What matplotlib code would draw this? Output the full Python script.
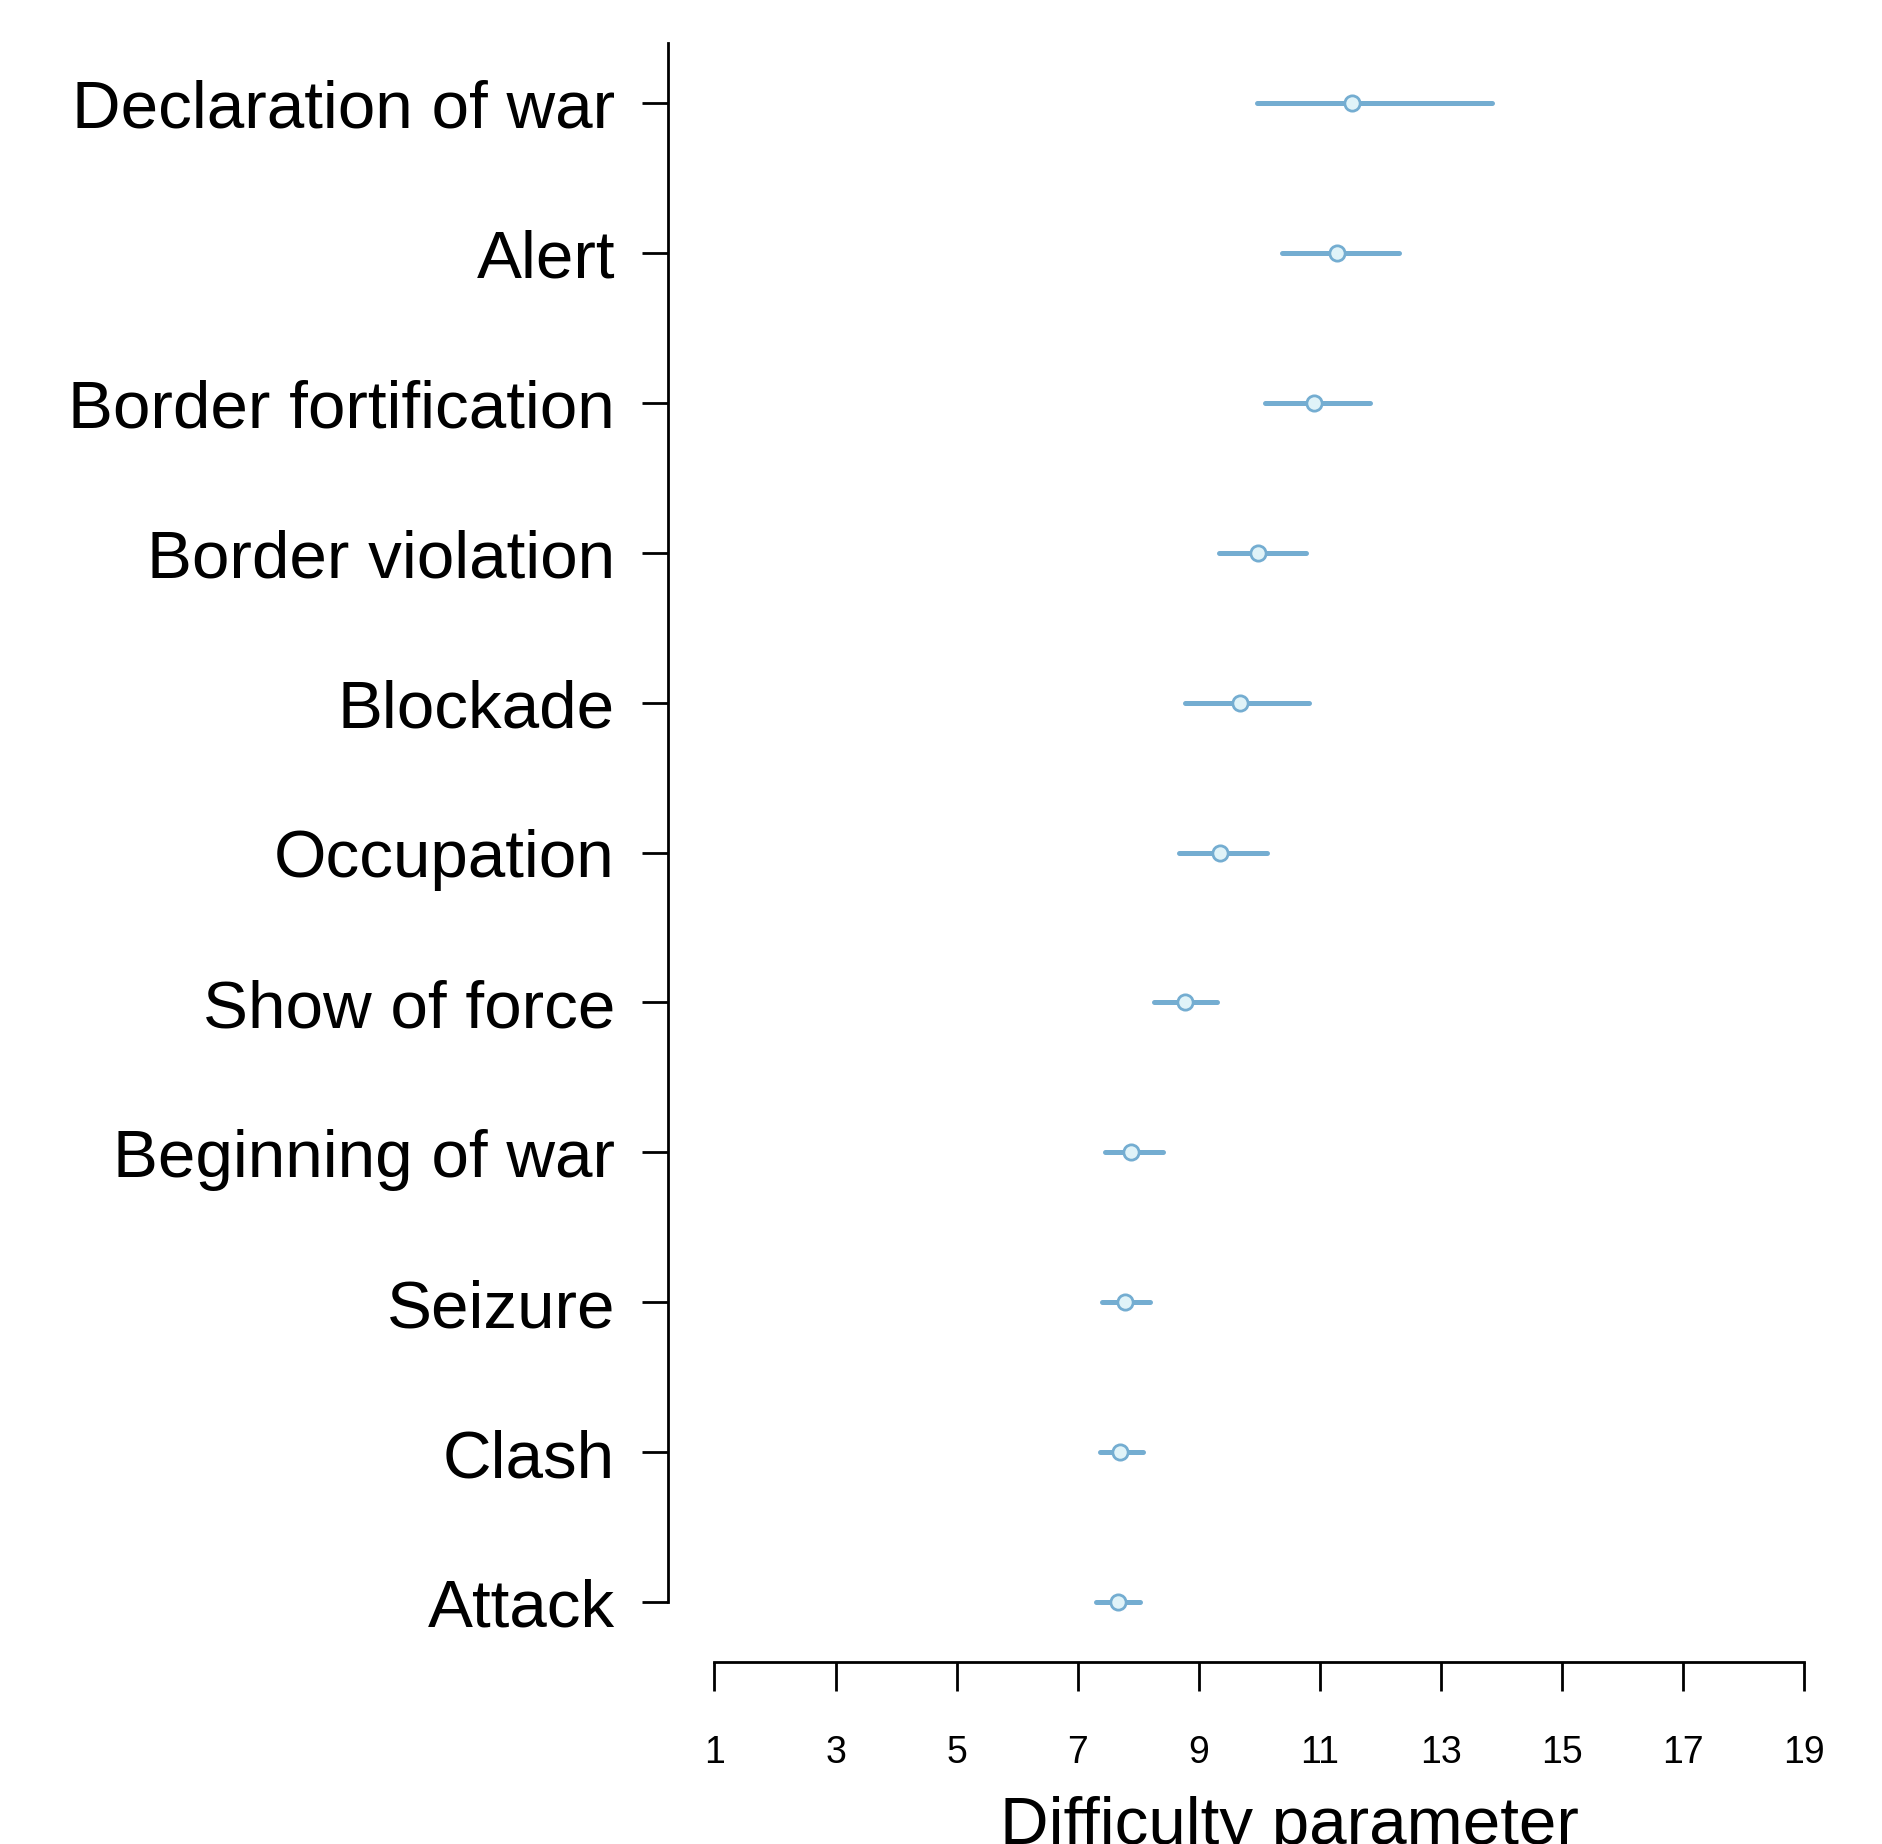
import matplotlib
matplotlib.use("Agg")
import matplotlib.pyplot as plt
import numpy as np

# items, bottom to top
items = ["Attack", "Clash", "Seizure", "Beginning of war", "Show of force",
         "Occupation", "Blockade", "Border violation", "Border fortification",
         "Alert", "Declaration of war"]
est = [7.66, 7.70, 7.79, 7.89, 8.77, 9.35, 9.69, 9.99, 10.90, 11.29, 11.53]
lo = [7.30, 7.37, 7.40, 7.45, 8.26, 8.67, 8.77, 9.34, 10.09, 10.38, 9.97]
hi = [8.03, 8.08, 8.20, 8.41, 9.31, 10.13, 10.82, 10.77, 11.84, 12.32, 13.85]
xticks = [1, 3, 5, 7, 9, 11, 13, 15, 17, 19]

line_col = "#74ADD1"
face_col = "#E0F3F8"

plt.rcParams['font.family'] = ['Liberation Sans', 'DejaVu Sans']

fig = plt.figure(figsize=(18.83, 18.449), dpi=100)
ax = fig.add_axes([0.3546, 0.09864, 0.6049, 0.8775])

ypos = np.arange(1, len(items) + 1)
for y, l, h in zip(ypos, lo, hi):
    ax.plot([l, h], [y, y], color=line_col, lw=3.6, solid_capstyle='round', zorder=2)
ax.plot(est, ypos, 'o', ms=11, mfc=face_col, mec=line_col, mew=2.0, zorder=3)

ax.set_xlim(0.227, 19.05)
ax.set_ylim(0.6, 11.4)

ax.spines['top'].set_visible(False)
ax.spines['right'].set_visible(False)
ax.spines['left'].set_linewidth(2.0)
ax.spines['bottom'].set_linewidth(2.0)
ax.spines['left'].set_bounds(1, 11.4)
ax.spines['bottom'].set_bounds(1, 19)

ax.set_yticks(ypos)
ax.set_yticklabels(items, fontsize=48.5)
ax.set_xticks(xticks)
ax.set_xticklabels([str(v) for v in xticks], fontsize=27)
ax.tick_params(axis='y', length=19, width=2.0, pad=19)
ax.tick_params(axis='x', length=21, width=2.0, pad=31)

fig.text(0.685, 0.0005, "Difficulty parameter", fontsize=48.5, ha='center', va='baseline')

fig.savefig("out.png", dpi=100)
